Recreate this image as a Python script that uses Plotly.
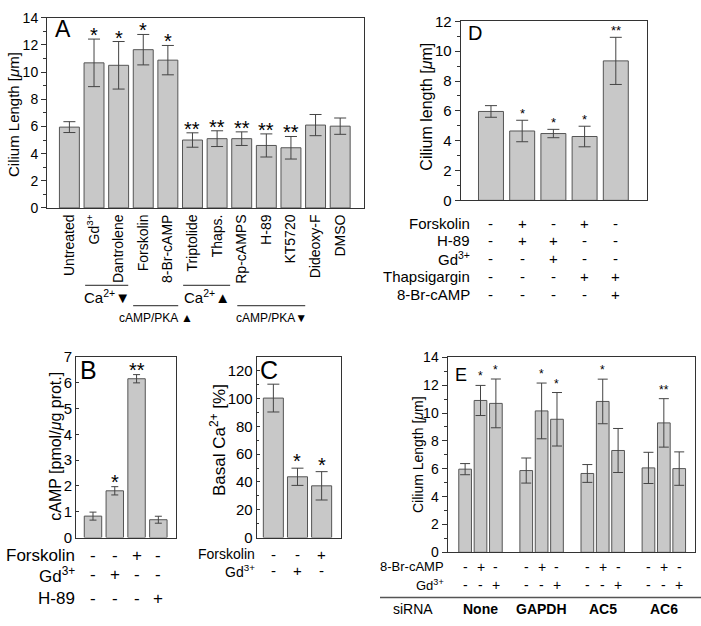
import plotly.graph_objects as go

W, H = 701, 626
FONT = "Liberation Sans, Arial, Helvetica, sans-serif"
BAR_FILL = "#c8c8c8"
BAR_LINE = "#555555"
AX = "#333333"

# ---------------- data ----------------
# Panel A
a_labels = ["Untreated", "Gd<sup>3+</sup>", "Dantrolene", "Forskolin", "8-Br-cAMP",
            "Triptolide", "Thaps.", "Rp-cAMPS", "H-89", "KT5720", "Dideoxy-F", "DMSO"]
a_values = [5.95, 10.68, 10.5, 11.65, 10.88, 5.0, 5.1, 5.1, 4.6, 4.43, 6.1, 6.02]
a_errors = [0.4, 1.75, 1.75, 1.12, 1.08, 0.53, 0.58, 0.5, 0.85, 0.83, 0.78, 0.6]
a_sig = ["", "*", "*", "*", "*", "**", "**", "**", "**", "**", "", ""]
a_groups = [("Ca<sup>2+</sup>▼", 0.64, 2.39, 0), ("cAMP/PKA ▲", 2.59, 4.42, 1),
            ("Ca<sup>2+</sup>▲", 4.62, 6.53, 0), ("cAMP/PKA▼", 6.82, 9.58, 1)]

# Panel D
d_values = [5.96, 4.65, 4.48, 4.28, 9.35]
d_errors = [0.39, 0.72, 0.28, 0.69, 1.58]
d_sig = ["", "*", "*", "*", "**"]
d_rows = ["Forskolin", "H-89", "Gd<sup>3+</sup>", "Thapsigargin", "8-Br-cAMP"]
d_table = [["-", "+", "-", "+", "-"],
           ["-", "+", "+", "-", "-"],
           ["-", "-", "+", "-", "-"],
           ["-", "-", "-", "+", "+"],
           ["-", "-", "-", "-", "+"]]

# Panel B
b_values = [0.83, 1.81, 6.15, 0.69]
b_errors = [0.155, 0.16, 0.16, 0.135]
b_sig = ["", "*", "**", ""]
b_rows = ["Forskolin", "Gd<sup>3+</sup>", "H-89"]
b_table = [["-", "-", "+", "-"],
           ["-", "+", "-", "-"],
           ["-", "-", "-", "+"]]

# Panel C
c_values = [100.3, 43.7, 37.2]
c_errors = [10.0, 6.2, 10.2]
c_sig = ["", "*", "*"]
c_rows = ["Forskolin", "Gd<sup>3+</sup>"]
c_table = [["-", "-", "+"],
           ["-", "+", "-"]]

# Panel E
e_groups = ["None", "GAPDH", "AC5", "AC6"]
e_ctrl = [5.97, 5.87, 5.66, 6.06]
e_ctrl_err = [0.4, 0.9, 0.64, 1.12]
e_br = [10.9, 10.15, 10.83, 9.29]
e_br_err = [1.08, 2.0, 1.6, 1.74]
e_gd = [10.69, 9.55, 7.31, 6.01]
e_gd_err = [1.75, 1.92, 1.58, 1.2]
e_sig = [["", "*", "*"], ["", "*", "*"], ["", "*", ""], ["", "**", ""]]
e_rows = ["8-Br-cAMP", "Gd<sup>3+</sup>"]
e_table = [["-", "+", "-"], ["-", "-", "+"]]

# ---------------- helpers ----------------
def fx(px):
    return px / W

def fy(py):
    return 1 - py / H

# pixel boxes: (x0, x1, y_top, y_bottom, x range, y range)
boxes = {
    "A": (47, 364.3, 9, 204.5, [-0.91, 11.98], [0, 14]),
    "D": (460.7, 646.7, 12.7, 196.7, [-0.97, 4.99], [0, 12]),
    "B": (76, 176, 357.5, 543.3, [-0.78, 3.81], [0, 7]),
    "C": (256.7, 340.7, 357.5, 543.3, [-0.69, 2.79], [0, 130]),
    "E": (447.5, 695, 358, 558.5, [-0.54, 3.51], [0, 14]),
}
axid = {"A": "", "D": "2", "B": "3", "C": "4", "E": "5"}


def cat_px(panel, i):
    x0, x1, _, _, xr, _ = boxes[panel]
    return x0 + (i - xr[0]) / (xr[1] - xr[0]) * (x1 - x0)


fig = go.Figure()
err_style = dict(type="data", color="#444444", thickness=1)


def add_bars(panel, x, y, err, width, capw):
    n = axid[panel]
    fig.add_trace(go.Bar(
        x=x, y=y, width=width,
        marker=dict(color=BAR_FILL, line=dict(color=BAR_LINE, width=1)),
        error_y=dict(array=err, width=capw, **err_style),
        xaxis="x" + n, yaxis="y" + n, showlegend=False))


add_bars("A", list(range(len(a_values))), a_values, a_errors, 0.81, 6)
add_bars("D", list(range(len(d_values))), d_values, d_errors, 0.8, 6)
add_bars("B", list(range(len(b_values))), b_values, b_errors, 0.8, 3.5)
add_bars("C", list(range(len(c_values))), c_values, c_errors, 0.83, 6)

for vals, errs in [(e_ctrl, e_ctrl_err), (e_br, e_br_err), (e_gd, e_gd_err)]:
    fig.add_trace(go.Bar(
        x=list(range(len(e_groups))), y=vals,
        marker=dict(color=BAR_FILL, line=dict(color=BAR_LINE, width=1)),
        error_y=dict(array=errs, width=5, **err_style),
        xaxis="x5", yaxis="y5", showlegend=False))

BARGAP, GROUPGAP = 0.245, 0.175
slot = (1 - BARGAP) / 3

layout = dict(
    width=W, height=H, margin=dict(l=0, r=0, t=0, b=0),
    paper_bgcolor="white", plot_bgcolor="white",
    font=dict(family=FONT, color="black"),
    barmode="group", bargap=BARGAP, bargroupgap=GROUPGAP,
    showlegend=False,
)

# (major dtick, minor dtick, font size, tick direction)
ytick = {"A": (2, 1, 14, "outside"), "D": (2, 1, 15, "outside"), "B": (1, None, 15, "inside"),
         "C": (20, 10, 15, "inside"), "E": (2, 1, 14, "outside")}

for p, (x0, x1, yt, yb, xr, yr) in boxes.items():
    n = axid[p]
    xa = dict(domain=[fx(x0), fx(x1)], range=xr, showline=True, mirror=True,
              linecolor=AX, linewidth=1, showgrid=False, zeroline=False,
              ticks="", showticklabels=False, anchor="y" + n, fixedrange=True)
    if p == "A":
        xa.update(showticklabels=True, tickmode="array",
                  tickvals=list(range(len(a_labels))), ticktext=a_labels,
                  tickangle=-90, tickfont=dict(size=14))
    dt, mdt, fs, tdir = ytick[p]
    ya = dict(domain=[fy(yb), fy(yt)], range=yr, showline=True, mirror=True,
              linecolor=AX, linewidth=1, showgrid=False, zeroline=False,
              ticks=tdir, ticklen=5 if tdir == "outside" else 3, tickcolor=AX,
              dtick=dt, tick0=0, tickfont=dict(size=fs), anchor="x" + n, fixedrange=True)
    if mdt:
        ya["minor"] = dict(ticks=tdir, ticklen=3 if tdir == "outside" else 2,
                           dtick=mdt, tick0=0, tickcolor=AX)
    layout["xaxis" + n] = xa
    layout["yaxis" + n] = ya

fig.update_layout(**layout)

ann = []
shapes = []

# axis titles
titles = [
    ("Cilium Length [<i>μ</i>m]", 13, 109, 15),
    ("Cilium length [<i>μ</i>m]", 426.7, 100.7, 16),
    ("cAMP [pmol/<i>μ</i>g prot.]", 56, 450, 16),
    ("Basal Ca<sup>2+</sup> [%]", 218, 443, 17),
    ("Cilium Length [<i>μ</i>m]", 417.5, 458, 14),
]
for t, x, y, s in titles:
    ann.append(dict(text=t, x=fx(x), y=fy(y), xref="paper", yref="paper",
                    textangle=-90, showarrow=False, xanchor="center", yanchor="middle",
                    font=dict(size=s)))

# panel letters
letters = [("A", 62.5, 20.5, 23), ("D", 475, 24.5, 20), ("B", 88.5, 371, 25),
           ("C", 269, 371, 25), ("E", 460.5, 376, 18)]
for t, x, y, s in letters:
    ann.append(dict(text=t, x=fx(x), y=fy(y), xref="paper", yref="paper",
                    showarrow=False, xanchor="center", yanchor="middle", font=dict(size=s)))


# significance markers
def stars(panel, xs, vals, errs, sig, size, shift):
    n = axid[panel]
    for x, v, e, s in zip(xs, vals, errs, sig):
        if s:
            ann.append(dict(text=s, x=x, y=v + e, xref="x" + n, yref="y" + n,
                            showarrow=False, xanchor="center", yanchor="bottom",
                            yshift=shift, font=dict(size=size)))


stars("A", range(len(a_values)), a_values, a_errors, a_sig, 20, -9)
stars("D", range(len(d_values)), d_values, d_errors, d_sig, 13, -3)
stars("B", range(len(b_values)), b_values, b_errors, b_sig, 20, -8)
stars("C", range(len(c_values)), c_values, c_errors, c_sig, 20, -6)
e_series = [(e_ctrl, e_ctrl_err), (e_br, e_br_err), (e_gd, e_gd_err)]
for k, (vals, errs) in enumerate(e_series):
    xs = [g + (k - 1) * slot for g in range(len(e_groups))]
    stars("E", xs, vals, errs, [e_sig[g][k] for g in range(len(e_groups))], 12, 0)

# group brackets in panel A
for label, i0, i1, row in a_groups:
    ly = 284 if row == 0 else 305
    ty = 295.5 if row == 0 else 317.5
    fs = 15 if row == 0 else 12
    shapes.append(dict(type="line", xref="paper", yref="paper",
                       x0=fx(cat_px("A", i0)), x1=fx(cat_px("A", i1)),
                       y0=fy(ly), y1=fy(ly), line=dict(color="#222222", width=1)))
    ann.append(dict(text=label, x=fx((cat_px("A", i0) + cat_px("A", i1)) / 2), y=fy(ty),
                    xref="paper", yref="paper", showarrow=False,
                    xanchor="center", yanchor="middle", font=dict(size=fs)))


# condition tables
def table(panel, rows, cells, row_px, label_right, size, label_size, xs_fn):
    n = axid[panel]
    for r, (name, vals) in enumerate(zip(rows, cells)):
        ann.append(dict(text=name, x=fx(label_right), y=fy(row_px[r]), xref="paper",
                        yref="paper", showarrow=False, xanchor="right", yanchor="middle",
                        borderpad=0, font=dict(size=label_size)))
        for j, v in enumerate(vals):
            ann.append(dict(text=v, x=xs_fn(j), y=fy(row_px[r]), xref="x" + n, yref="paper",
                            showarrow=False, xanchor="center", yanchor="middle",
                            borderpad=0, font=dict(size=size)))


table("D", d_rows, d_table, [220, 238.3, 256.7, 275, 293.3], 471, 15, 15, lambda j: j)
table("B", b_rows, b_table, [561.7, 581.7, 605.7], 76, 17, 17, lambda j: j)
table("C", c_rows, c_table, [560.5, 577.5], 256, 15, 14, lambda j: j)

e_cells = [[sym for g in range(len(e_groups)) for sym in row] for row in e_table]
table("E", e_rows, e_cells, [573.3, 591.7], 445, 14, 13,
      lambda j: (j // 3) + (j % 3 - 1) * slot)

shapes.append(dict(type="line", xref="paper", yref="paper", x0=fx(380), x1=fx(701),
                   y0=fy(605), y1=fy(605), line=dict(color="#555555", width=1.5)))
ann.append(dict(text="siRNA", x=fx(435), y=fy(616.7), xref="paper", yref="paper",
                showarrow=False, xanchor="right", yanchor="middle", font=dict(size=14)))
for g, name in enumerate(e_groups):
    ann.append(dict(text="<b>%s</b>" % name, x=g, y=fy(616.7), xref="x5", yref="paper",
                    showarrow=False, xanchor="center", yanchor="middle", font=dict(size=14)))

fig.update_layout(annotations=ann, shapes=shapes)
fig.write_html("out.html", config={"displayModeBar": False},
               post_script="document.body.style.margin='0px';document.body.style.overflow='hidden';")
